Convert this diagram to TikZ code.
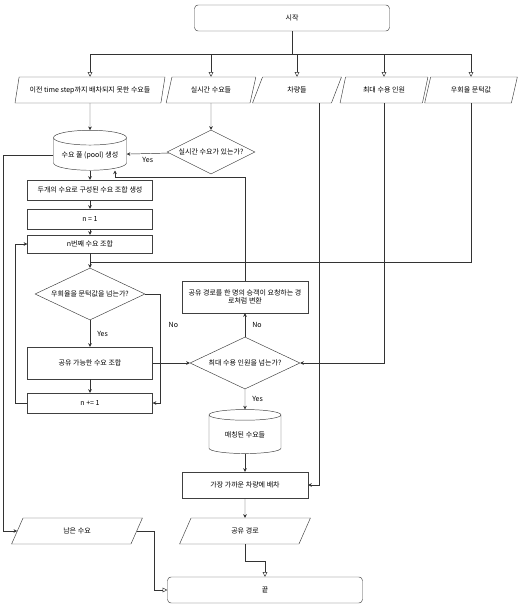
\documentclass[tikz,border=0pt]{standalone}
\usepackage{fontspec}
\newfontfamily\krfont{Noto Sans CJK KR}
\usetikzlibrary{arrows.meta, shapes.geometric}

\begin{document}
\begin{tikzpicture}[x=0.03cm, y=-0.03cm,
    every node/.style={font=\krfont\fontsize{6}{7}\selectfont, inner sep=1pt},
    terminal/.style={draw=black!75, rounded corners=3pt, minimum width=195*\px, minimum height=26*\px},
    iobox/.style={draw=black!75, trapezium, trapezium left angle=70, trapezium right angle=110,
        trapezium stretches=true, minimum height=26*\px},
    procbox/.style={draw=black!75, rectangle, minimum width=125*\px, minimum height=20*\px},
    decision/.style={draw=black!75, diamond, inner sep=0pt},
    store/.style={draw=black!75, cylinder, shape border rotate=90, aspect=0.25},
    flow/.style={draw=black!80, -{Stealth[length=3pt,width=3pt]}},
    input/.style={draw=black!80, -{Triangle[open,length=4pt,width=4pt]}}]
    \def\px{0.03cm}
    \useasboundingbox (0,0) rectangle (528,611);

    % start and the five inputs
    \node[terminal] (start) at (292,18) {시작};
    \node[iobox, minimum width=150*\px] (prev) at (90,90) {이전 time step까지 배차되지 못한 수요들};
    \node[iobox, minimum width=90*\px] (live) at (211,90) {실시간 수요들};
    \node[iobox, minimum width=89*\px] (cars) at (297,90) {차량들};
    \node[iobox, minimum width=88*\px] (cap) at (384,90) {최대 수용 인원};
    \node[iobox, minimum width=93*\px] (thr) at (471,90) {우회율 문턱값};
    \coordinate (split) at (292,54);
    \draw[draw=black!80] (start) -- (split);
    \draw[draw=black!80] (split -| prev.north) -- (split -| thr.north);
    \foreach \n in {prev,live,cars,cap,thr}
        \draw[input] (split -| \n.north) -- (\n.north);

    % demand pool
    \node[store, minimum width=73*\px, minimum height=40*\px] (pool) at (90,155) {수요 풀 (pool) 생성};
    \node[decision, minimum width=88*\px, minimum height=44*\px,
        label=center:{실시간 수요가 있는가?}] (haslive) at (211,152) {};
    \draw[flow] (prev) -- (pool);
    \draw[flow] (live) -- (haslive);
    \draw[flow] (haslive) -- (pool) node[midway, below=2pt] {Yes};

    % combination loop
    \node[procbox] (pairs) at (90,190) {두개의 수요로 구성된 수요 조합 생성};
    \node[procbox] (nset) at (90,219) {n = 1};
    \node[procbox, minimum height=18*\px] (nth) at (90,244) {n번째 수요 조합};
    \node[decision, minimum width=110*\px, minimum height=52*\px,
        label=center:{우회율을 문턱값을 넘는가?}] (detour) at (90,294) {};
    \node[procbox, minimum height=32*\px] (share) at (90,363) {공유 가능한 수요 조합};
    \node[procbox] (ninc) at (90,403) {n += 1};
    \coordinate (merge) at (90,262);
    \draw[flow] (pool) -- (pairs);
    \draw[flow] (pairs) -- (nset);
    \draw[flow] (nset) -- (nth);
    \draw[flow] (nth) -- (detour);
    \draw[draw=black!80] (thr) |- (merge);
    \draw[flow] (detour) -- (share) node[midway, right=5pt] {Yes};
    \draw[flow] (detour.east) -- ++(15,0) |- (ninc.east) node[pos=0.14, right=6pt] {No};
    \draw[flow] (share) -- (ninc);
    \draw[flow] (ninc.west) -- ++(-12,0) |- (nth.west);

    % capacity check
    \node[decision, minimum width=110*\px, minimum height=52*\px,
        label=center:{최대 수용 인원을 넘는가?}] (overcap) at (245,363) {};
    \node[procbox, minimum width=126*\px, minimum height=32*\px, align=center] (convert) at (245,297)
        {공유 경로를 한 명의 승객이 요청하는 경\\로처럼 변환};
    \node[store, minimum width=72*\px, minimum height=44*\px] (matched) at (245,435) {매칭된 수요들};
    \node[procbox, minimum width=126*\px, minimum height=26*\px] (assign) at (245,485) {가장 가까운 차량에 배차};
    \draw[flow] (share) -- (overcap);
    \draw[flow] (cap) |- (overcap);
    \draw[flow] (overcap) -- (convert) node[midway, right=5pt] {No};
    \draw[flow] (convert) |- (115,177) -- (pool.south -| 115,0);
    \draw[flow] (overcap) -- (matched) node[midway, right=5pt] {Yes};
    \draw[flow] (matched) -- (assign);
    \draw[flow] (cars.south -| 319,0) |- (assign.east);

    % outputs and end
    \node[iobox, minimum width=131*\px] (route) at (245,531) {공유 경로};
    \node[iobox, minimum width=131*\px] (left) at (77,531) {남은 수요};
    \node[terminal] (end) at (265,590) {끝};
    \coordinate (join) at (265,561);
    \draw[flow] (assign) -- (route);
    \draw[flow] (pool.west) -- ++(-50,0) |- (left.west);
    \draw[input] (route) |- (join) -- (end);
    \draw[input] (left.east) -- ++(17,0) |- (end.west);
\end{tikzpicture}
\end{document}
